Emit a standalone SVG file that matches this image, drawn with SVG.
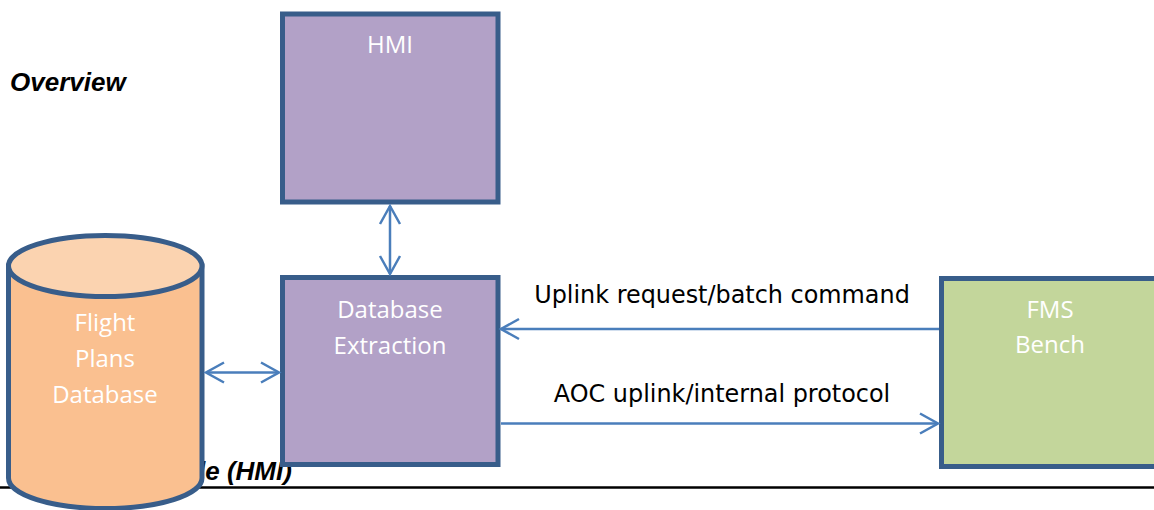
<svg xmlns="http://www.w3.org/2000/svg" width="1154" height="510" viewBox="0 0 1154 510">
<style>
.box{stroke:#385D8A;stroke-width:5}
.purple{fill:#B2A1C7}
.green{fill:#C3D69B}
.lbl{font-family:"Open Sans","Noto Sans",sans-serif;font-size:24px;fill:#FFFFFF;text-anchor:middle}
.elbl{font-family:"DejaVu Sans",Verdana,sans-serif;font-size:23.9px;fill:#000000;text-anchor:middle}
.hdr{font-family:"Liberation Sans",Arial,sans-serif;font-size:26px;font-weight:bold;font-style:italic;fill:#000000}
.conn{stroke:#4A7EBB;stroke-width:2.5;fill:none}
</style>
<defs>
<marker id="ah" markerUnits="userSpaceOnUse" markerWidth="40" markerHeight="40" refX="0" refY="0" orient="auto-start-reverse" overflow="visible">
<path d="M-18,-10 L0,0 L-18,10" fill="none" stroke="#4A7EBB" stroke-width="2.5"/>
</marker>
</defs>
<rect width="1154" height="510" fill="#FFFFFF"/>
<text class="hdr" x="10" y="91">Overview</text>
<text class="hdr" x="198" y="480">le (HMI)</text>
<line x1="0" y1="487.5" x2="1154" y2="487.5" stroke="#000000" stroke-width="2.5"/>
<g id="flight-plans-db">
<path class="box" d="M8.5,266 L8.5,478 A96.75,30.5 0 0 0 202,478 L202,266 Z" fill="#FAC090"/>
<ellipse class="box" cx="105.25" cy="266" rx="96.75" ry="30.5" fill="#FBD3B0"/>
<text class="lbl" x="105" y="331">Flight</text>
<text class="lbl" x="105" y="367">Plans</text>
<text class="lbl" x="105" y="403">Database</text>
</g>
<g id="hmi">
<rect class="box purple" x="282.5" y="14" width="215.5" height="188"/>
<text class="lbl" x="390" y="53">HMI</text>
</g>
<g id="database-extraction">
<rect class="box purple" x="282.5" y="277.5" width="215.5" height="187"/>
<text class="lbl" x="390" y="318">Database</text>
<text class="lbl" x="390" y="354">Extraction</text>
</g>
<g id="fms-bench">
<rect class="box green" x="941.5" y="278.5" width="217" height="188"/>
<text class="lbl" x="1050" y="318">FMS</text>
<text class="lbl" x="1050" y="353">Bench</text>
</g>
<g id="connectors">
<line class="conn" x1="390" y1="206" x2="390" y2="274" marker-start="url(#ah)" marker-end="url(#ah)"/>
<line class="conn" x1="206" y1="372.5" x2="279" y2="372.5" marker-start="url(#ah)" marker-end="url(#ah)"/>
<line class="conn" x1="939" y1="329" x2="501" y2="329" marker-end="url(#ah)"/>
<line class="conn" x1="501" y1="423.5" x2="938" y2="423.5" marker-end="url(#ah)"/>
<text class="elbl" x="722" y="302.5">Uplink request/batch command</text>
<text class="elbl" x="722" y="401.5">AOC uplink/internal protocol</text>
</g>
</svg>
